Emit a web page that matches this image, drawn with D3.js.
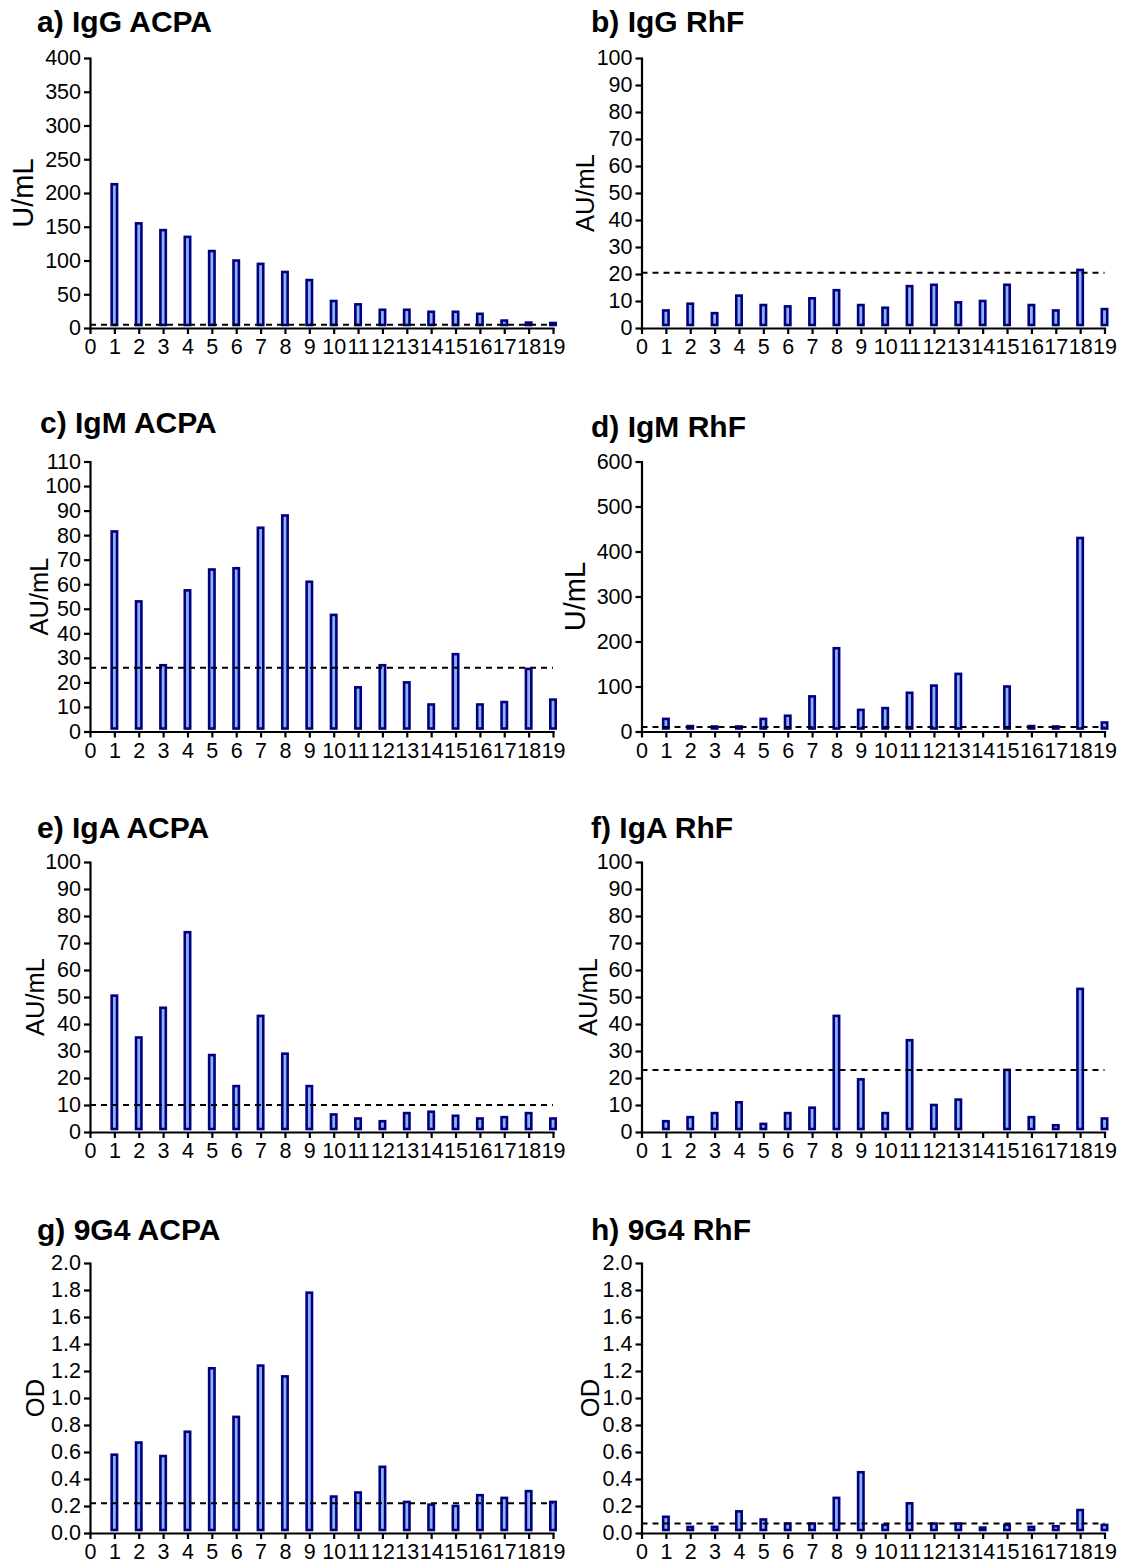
<html>
<head>
<meta charset="utf-8" />
<script src="https://cdn.jsdelivr.net/npm/d3@7"></script>
<style>
body { margin: 0; background: #fff; }
text { font-family: "Liberation Sans", Arial, sans-serif; fill: #000; }
.axis path, .axis line { stroke: #000; stroke-width: 2.2px; }
.axis text { font-size: 21.5px; }
.bar { fill: #8db4f2; stroke: #000080; stroke-width: 2.6px; }
.cut { stroke: #000; stroke-width: 2px; stroke-dasharray: 6,5; fill: none; }
.title { font-size: 30px; font-weight: bold; }
</style>
</head>
<body>
<svg id="chart" width="1121" height="1566"></svg>
<script>

// patients on the x axis, 0 is just the axis start
var xTicks = [0,1,2,3,4,5,6,7,8,9,10,11,12,13,14,15,16,17,18,19];
var patients = [1,2,3,4,5,6,7,8,9,10,11,12,13,14,15,16,17,18,19];

// values (null = no bar)
var iggAcpa = [213,155,145,135,114,100,95,83,71,40,35,27,27,24,24,21,11,8,5];
var iggRhf  = [6.5,9,5.5,12,8.5,8,11,14,8.5,7.5,15.5,16,9.5,10,16,8.5,6.5,21.5,7];
var igmAcpa = [81.5,53,27,57.5,66,66.5,83,88,61,47.5,18,27,20,11,31.5,11,12,25.5,13];
var igmRhf  = [28,12,8,11,28,35,78,185,48,52,86,102,128,null,100,12,9,430,20];
var igaAcpa = [50.5,35,46,74,28.5,17,43,29,17,6.5,5,4,7,7.5,6,5,5.5,7,5];
var igaRhf  = [4,5.5,7,11,3,7,9,43,19.5,7,34,10,12,null,23,5.5,2.5,53,5];
var g9Acpa  = [0.58,0.67,0.57,0.75,1.22,0.86,1.24,1.16,1.78,0.27,0.30,0.49,0.23,0.21,0.20,0.28,0.26,0.31,0.23];
var g9Rhf   = [0.12,0.045,0.045,0.16,0.10,0.07,0.07,0.26,0.45,0.06,0.22,0.07,0.07,0.04,0.06,0.045,0.05,0.17,0.06];

// cut-off (dashed) lines
var cutIggAcpa = 5, cutIggRhf = 20.5, cutIgmAcpa = 26, cutIgmRhf = 10;
var cutIgaAcpa = 10, cutIgaRhf = 23, cut9Acpa = 0.22, cut9Rhf = 0.07;

var panels = [
  {title: "a) IgG ACPA", values: iggAcpa, cut: cutIggAcpa, max: 400, step: 50,  unit: "U/mL",  fmt: "d",   col: 0, row: 0, labX: 23,  labFs: 29,   tx: 37,  ty: 32},
  {title: "b) IgG RhF",  values: iggRhf,  cut: cutIggRhf,  max: 100, step: 10,  unit: "AU/mL", fmt: "d",   col: 1, row: 0, labX: 585, labFs: 25.5, tx: 591, ty: 32},
  {title: "c) IgM ACPA", values: igmAcpa, cut: cutIgmAcpa, max: 110, step: 10,  unit: "AU/mL", fmt: "d",   col: 0, row: 1, labX: 39,  labFs: 25.5, tx: 40,  ty: 433},
  {title: "d) IgM RhF",  values: igmRhf,  cut: cutIgmRhf,  max: 600, step: 100, unit: "U/mL",  fmt: "d",   col: 1, row: 1, labX: 575, labFs: 29,   tx: 591, ty: 437},
  {title: "e) IgA ACPA", values: igaAcpa, cut: cutIgaAcpa, max: 100, step: 10,  unit: "AU/mL", fmt: "d",   col: 0, row: 2, labX: 35,  labFs: 25.5, tx: 37,  ty: 838},
  {title: "f) IgA RhF",  values: igaRhf,  cut: cutIgaRhf,  max: 100, step: 10,  unit: "AU/mL", fmt: "d",   col: 1, row: 2, labX: 588, labFs: 25.5, tx: 591, ty: 838},
  {title: "g) 9G4 ACPA", values: g9Acpa,  cut: cut9Acpa,   max: 2.0, step: 0.2, unit: "OD",    fmt: ".1f", col: 0, row: 3, labX: 35,  labFs: 25.5, tx: 37,  ty: 1240},
  {title: "h) 9G4 RhF",  values: g9Rhf,   cut: cut9Rhf,    max: 2.0, step: 0.2, unit: "OD",    fmt: ".1f", col: 1, row: 3, labX: 590, labFs: 25.5, tx: 591, ty: 1240}
];

var colX = [90, 641.5];
var rowBottom = [328, 731.5, 1132, 1533];
var plotW = 463, plotH = 270;
var barW = 5.4;

var svg = d3.select("#chart");

panels.forEach(function(p) {
  let x0 = colX[p.col], y0 = rowBottom[p.row];
  let g = svg.append("g");

  let x = d3.scaleLinear().domain([0, 19]).range([x0, x0 + plotW]);
  let y = d3.scaleLinear().domain([0, p.max]).range([y0, y0 - plotH]);

  let yTicks = d3.range(0, p.max + p.step / 2, p.step);

  g.append("g")
    .attr("class", "axis")
    .attr("transform", "translate(" + x0 + ",0)")
    .call(d3.axisLeft(y).tickValues(yTicks).tickFormat(d3.format(p.fmt))
      .tickSize(6).tickSizeOuter(0).tickPadding(3));

  g.append("g")
    .attr("class", "axis")
    .attr("transform", "translate(0," + y0 + ")")
    .call(d3.axisBottom(x).tickValues(xTicks).tickFormat(d3.format("d"))
      .tickSize(6).tickSizeOuter(0).tickPadding(5));

  g.selectAll(".domain").attr("stroke-linecap", "square");

  // bars sit a little above the axis line
  let base = y(0) - 3;
  g.selectAll("rect.bar")
    .data(patients.map(function(d, i) { return {p: d, v: p.values[i]}; })
      .filter(function(d) { return d.v != null; }))
    .enter().append("rect")
    .attr("class", "bar")
    .attr("x", function(d) { return x(d.p) - barW / 2; })
    .attr("y", function(d) { return Math.min(y(d.v), base - 2); })
    .attr("width", barW)
    .attr("height", function(d) { return Math.max(base - y(d.v), 2); });

  g.append("line")
    .attr("class", "cut")
    .attr("x1", x(0)).attr("x2", x(19))
    .attr("y1", y(p.cut)).attr("y2", y(p.cut));

  g.append("text")
    .attr("class", "title")
    .attr("x", p.tx).attr("y", p.ty)
    .text(p.title);

  g.append("text")
    .attr("transform", "translate(" + p.labX + "," + (y0 - plotH / 2) + ") rotate(-90)")
    .attr("text-anchor", "middle")
    .attr("dy", "0.35em")
    .style("font-size", p.labFs + "px")
    .text(p.unit);
});

</script>
</body>
</html>
